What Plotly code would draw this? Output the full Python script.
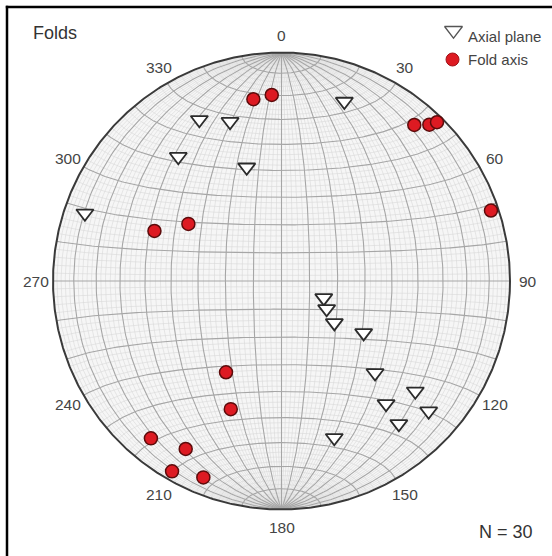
import numpy as np
import plotly.graph_objects as go

# Fold axes: trend / plunge (degrees)
fold_trend = [351.2, 357.0, 40.4, 43.4, 44.4, 71.4, 291.5, 301.5,
              211.3, 201.6, 219.7, 209.7, 209.9, 201.7]
fold_plunge = [20.6, 19.6, 11.3, 6.5, 3.1, 3.7, 40.0, 50.5,
               51.4, 39.5, 11.5, 16.5, 4.4, 8.3]

# Axial planes (plotted as poles): trend / plunge (degrees)
axial_trend = [333.0, 342.1, 320.3, 343.0, 289.0, 19.3, 111.8, 121.7,
               128.4, 122.3, 134.5, 129.5, 139.6, 131.5, 140.6, 161.4]
axial_plunge = [21.9, 27.6, 30.0, 46.8, 9.9, 17.9, 73.8, 71.1,
                65.9, 55.0, 42.1, 25.1, 30.1, 15.1, 20.2, 28.4]

# Azimuth labels round the primitive
azimuth_ticks = [0, 30, 60, 90, 120, 150, 180, 210, 240, 270, 300, 330]

W, H = 552, 556
CX, CY, R = 281.5, 281.0, 228.5          # net centre / radius in pixels
FONT = "Liberation Sans, Arial, sans-serif"


def to_net(x, y, z):
    """Lambert equal-area (Schmidt) projection of lower-hemisphere unit vectors."""
    s = np.sqrt(1.0 + z)
    return x / s, y / s


def project(trend, plunge):
    t = np.radians(np.asarray(trend, float))
    p = np.radians(np.asarray(plunge, float))
    return to_net(np.cos(p) * np.sin(t), np.cos(p) * np.cos(t), np.sin(p))


def grid_lines(step, skip=None):
    """Great circles through N/S and small circles about the N-S axis."""
    xs, ys = [], []
    a = np.radians(np.linspace(0, 180, 181))
    # meridians (N-S striking great circles), dipping E and W
    for d in range(step, 91, step):
        if skip and d % skip == 0:
            continue
        dr = np.radians(d)
        for side in (1, -1):
            if d == 90 and side == -1:
                continue
            gx, gy = to_net(side * np.sin(a) * np.cos(dr), np.cos(a), np.sin(a) * np.sin(dr))
            xs += list(gx) + [None]
            ys += list(gy) + [None]
    # small circles about the N-S axis
    for b in range(step, 180, step):
        if skip and b % skip == 0:
            continue
        br = np.radians(b)
        sx, sy = to_net(np.sin(br) * np.cos(a), np.full_like(a, np.cos(br)), np.sin(br) * np.sin(a))
        xs += list(sx) + [None]
        ys += list(sy) + [None]
    return xs, ys


fig = go.Figure()

mx, my = grid_lines(2, skip=10)
fig.add_trace(go.Scatter(x=mx, y=my, mode="lines", hoverinfo="skip",
                         line=dict(color="#d9d9d9", width=0.6), showlegend=False))
Mx, My = grid_lines(10)
fig.add_trace(go.Scatter(x=Mx, y=My, mode="lines", hoverinfo="skip",
                         line=dict(color="#a6a6a6", width=1.1), showlegend=False))

# primitive circle
th = np.linspace(0, 2 * np.pi, 721)
fig.add_trace(go.Scatter(x=np.cos(th), y=np.sin(th), mode="lines", hoverinfo="skip",
                         line=dict(color="#3a3a3a", width=2), showlegend=False))

ax_x, ax_y = project(axial_trend, axial_plunge)
fig.add_trace(go.Scatter(x=ax_x, y=ax_y, mode="markers", name="Axial plane",
                         marker=dict(symbol="triangle-down", size=15, color="white",
                                     line=dict(color="#2b2b2b", width=1.8)),
                         showlegend=False))

fx, fy = project(fold_trend, fold_plunge)
fig.add_trace(go.Scatter(x=fx, y=fy, mode="markers", name="Fold axis",
                         marker=dict(symbol="circle", size=13, color="#dd1a22",
                                     line=dict(color="#5c0b0b", width=1.5)),
                         showlegend=False))

# legend keys
def px_to_data(px, py):
    return (px - CX) / R, (CY - py) / R

lx1, ly1 = px_to_data(453.5, 30.4)
lx2, ly2 = px_to_data(452.5, 59.5)
fig.add_trace(go.Scatter(x=[lx1], y=[ly1], mode="markers", hoverinfo="skip", showlegend=False,
                         marker=dict(symbol="triangle-down", size=15.5, color="white",
                                     line=dict(color="#555555", width=1.3))))
fig.add_trace(go.Scatter(x=[lx2], y=[ly2], mode="markers", hoverinfo="skip", showlegend=False,
                         marker=dict(symbol="circle", size=13, color="#dd1a22",
                                     line=dict(color="#a01016", width=1))))

annotations = []
for az in azimuth_ticks:
    rr = 246.0 / R
    annotations.append(dict(x=rr * np.sin(np.radians(az)), y=rr * np.cos(np.radians(az)),
                            xref="x", yref="y", text=str(az), showarrow=False,
                            xanchor="center", yanchor="middle",
                            font=dict(family=FONT, size=15.5, color="#454545")))

annotations.append(dict(x=30.5 / W, y=1 - 33.5 / H, xref="paper", yref="paper", text="Folds",
                        showarrow=False, xanchor="left", yanchor="middle",
                        font=dict(family=FONT, size=18, color="#333333")))
annotations.append(dict(x=466 / W, y=1 - 36 / H, xref="paper", yref="paper", text="Axial plane",
                        showarrow=False, xanchor="left", yanchor="middle",
                        font=dict(family=FONT, size=15, color="#444444")))
annotations.append(dict(x=466 / W, y=1 - 59.5 / H, xref="paper", yref="paper", text="Fold axis",
                        showarrow=False, xanchor="left", yanchor="middle",
                        font=dict(family=FONT, size=15, color="#444444")))
n_total = len(fold_trend) + len(axial_trend)
annotations.append(dict(x=477 / W, y=1 - 532 / H, xref="paper", yref="paper", text=f"N = {n_total}",
                        showarrow=False, xanchor="left", yanchor="middle",
                        font=dict(family=FONT, size=18, color="#333333")))

shapes = [
    # net background
    dict(type="circle", xref="x", yref="y", x0=-1, y0=-1, x1=1, y1=1,
         fillcolor="#f6f6f6", line=dict(width=0), layer="below"),
    # frame edges (left and top)
    dict(type="line", xref="paper", yref="paper", x0=7 / W, x1=7 / W, y0=0, y1=1 - 5.8 / H,
         line=dict(color="black", width=2.5)),
    dict(type="line", xref="paper", yref="paper", x0=5.8 / W, x1=1, y0=1 - 7 / H, y1=1 - 7 / H,
         line=dict(color="black", width=2.5)),
]

fig.update_layout(
    width=W, height=H, margin=dict(l=0, r=0, t=0, b=0),
    paper_bgcolor="white", plot_bgcolor="white",
    xaxis=dict(range=[-CX / R, (W - CX) / R], visible=False, fixedrange=True),
    yaxis=dict(range=[-(H - CY) / R, CY / R], visible=False, fixedrange=True),
    annotations=annotations, shapes=shapes, showlegend=False,
)

fig.write_html("out.html", config={"displayModeBar": False})
